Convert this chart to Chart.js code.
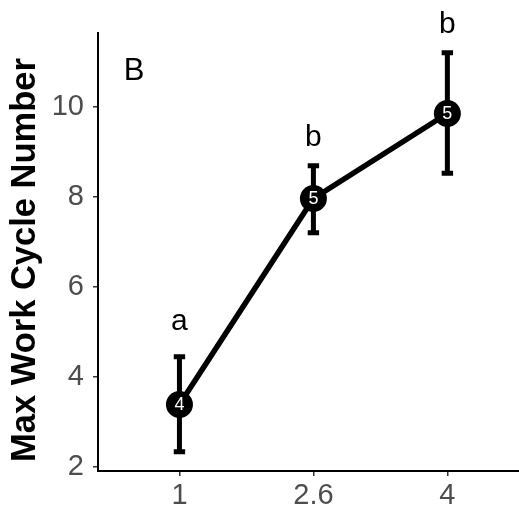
<!DOCTYPE html>
<html><head><meta charset="utf-8">
<style>html,body{margin:0;padding:0;background:#fff;overflow:hidden;width:519px;height:510px}canvas{display:block}</style>
<script src="https://cdn.jsdelivr.net/npm/chart.js@4.4.0/dist/chart.umd.min.js"></script>
</head><body><canvas id="c" width="532" height="510" style="width:532px;height:510px"></canvas>
<script>
const categories = ['1', '2.6', '4'];
const means = [3.38, 7.96, 9.85];
const upper = [4.44, 8.69, 11.2];
const lower = [2.33, 7.2, 8.52];
const nLabels = ['4', '5', '5'];
const sigLetters = ['a', 'b', 'b'];
const sigY = [5.04, 9.13, 11.63];
const yTicks = [2, 4, 6, 8, 10];
const panelLabel = 'B';
const yTitle = 'Max Work Cycle Number';

const FONT = "'Liberation Sans', Arial, Helvetica, sans-serif";
const xIdx = categories.map((_, i) => i);

const overlay = {
  id: 'overlay',
  beforeDatasetsDraw(chart) {
    const {ctx, scales: {x, y}} = chart;
    ctx.save();
    ctx.strokeStyle = '#000';
    ctx.lineWidth = 5;
    ctx.lineCap = 'butt';
    xIdx.forEach(i => {
      const px = x.getPixelForValue(i);
      const pu = y.getPixelForValue(upper[i]);
      const pl = y.getPixelForValue(lower[i]);
      ctx.beginPath();
      ctx.moveTo(px, pu); ctx.lineTo(px, pl);
      ctx.moveTo(px - 5.7, pu); ctx.lineTo(px + 5.7, pu);
      ctx.moveTo(px - 5.7, pl); ctx.lineTo(px + 5.7, pl);
      ctx.stroke();
    });
    ctx.restore();
  },
  afterDatasetsDraw(chart) {
    const {ctx, scales: {x, y}} = chart;
    ctx.save();
    ctx.textAlign = 'center';
    ctx.textBaseline = 'middle';
    ctx.fillStyle = '#fff';
    ctx.font = "18px " + FONT;
    xIdx.forEach(i => {
      ctx.fillText(nLabels[i], x.getPixelForValue(i), y.getPixelForValue(means[i]) + 1);
    });
    ctx.fillStyle = '#000';
    ctx.textBaseline = 'alphabetic';
    ctx.font = "30px " + FONT;
    xIdx.forEach(i => {
      ctx.fillText(sigLetters[i], x.getPixelForValue(i), y.getPixelForValue(sigY[i]));
    });
    ctx.restore();
  },
  afterDraw(chart) {
    const {ctx, chartArea} = chart;
    ctx.save();
    ctx.fillStyle = '#000';
    ctx.font = "31px " + FONT;
    ctx.textAlign = 'center';
    ctx.textBaseline = 'alphabetic';
    ctx.fillText(panelLabel, chartArea.left + 36, chartArea.top + 47);
    ctx.translate(25, (chartArea.top + chartArea.bottom) / 2 + 8);
    ctx.rotate(-Math.PI / 2);
    ctx.font = "bold 34.5px " + FONT;
    ctx.textBaseline = 'middle';
    ctx.fillText(yTitle, 0, 0);
    ctx.restore();
  }
};

function fixPad(s) {
  s.paddingLeft = 0; s.paddingRight = 0; s.paddingTop = 0; s.paddingBottom = 0;
}

new Chart(document.getElementById('c'), {
  type: 'line',
  data: {
    datasets: [{
      data: xIdx.map(i => ({x: i, y: means[i]})),
      borderColor: '#000',
      borderWidth: 5.5,
      pointRadius: 13.5,
      pointHoverRadius: 13.5,
      pointBackgroundColor: '#000',
      pointBorderColor: '#000',
      pointBorderWidth: 0,
      tension: 0,
      clip: false
    }]
  },
  options: {
    responsive: false,
    animation: false,
    devicePixelRatio: 1,
    layout: {padding: {top: 33, right: 0, left: 0, bottom: 0}},
    plugins: {legend: {display: false}, tooltip: {enabled: false}},
    scales: {
      x: {
        type: 'linear',
        min: -0.608,
        max: 2.531,
        afterBuildTicks: s => { s.ticks = xIdx.map(v => ({value: v})); },
        ticks: {
          callback: v => categories[v],
          color: '#4d4d4d',
          font: {family: FONT, size: 29},
          padding: 3,
          maxRotation: 0,
          autoSkip: false
        },
        grid: {display: true, drawOnChartArea: false, drawTicks: true, tickLength: 5, color: '#333', lineWidth: 1.5},
        border: {display: true, color: '#000', width: 2},
        afterFit: s => { s.height = 39; fixPad(s); }
      },
      y: {
        type: 'linear',
        min: 1.9,
        max: 11.64,
        afterBuildTicks: s => { s.ticks = yTicks.map(v => ({value: v})); },
        ticks: {
          color: '#4d4d4d',
          font: {family: FONT, size: 29},
          padding: 9
        },
        grid: {display: true, drawOnChartArea: false, drawTicks: true, tickLength: 5, color: '#333', lineWidth: 1.5},
        border: {display: true, color: '#000', width: 2},
        afterFit: s => { s.width = 98; fixPad(s); }
      }
    }
  },
  plugins: [overlay]
});
</script>
</body></html>
